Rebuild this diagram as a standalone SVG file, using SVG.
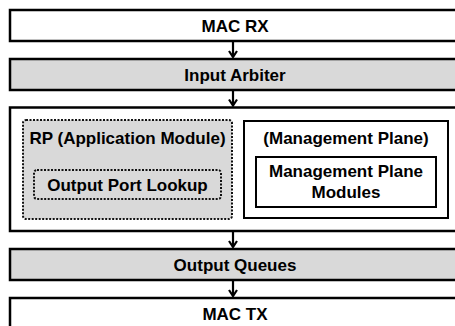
<svg xmlns="http://www.w3.org/2000/svg" width="455" height="326" viewBox="0 0 455 326">
<style>
.box{stroke:#000;stroke-width:2.5;}
.w{fill:#fff;}
.g{fill:#d9d9d9;}
.dot{fill:#d9d9d9;stroke:#111;stroke-width:2;stroke-dasharray:2 1.5;}
.sol{fill:#fff;stroke:#000;stroke-width:2;}
text{font-family:"Liberation Sans",Arial,sans-serif;font-weight:bold;font-size:17px;fill:#000;text-anchor:middle;}
.arr{stroke:#000;stroke-width:2.2;fill:none;}
</style>
<rect width="455" height="326" fill="#fff"/>
<g id="mac-rx"><rect class="box w" x="10" y="10" width="452" height="31"/><text x="235" y="32">MAC RX</text></g>
<g id="input-arbiter"><rect class="box g" x="10" y="59" width="452" height="31"/><text x="235" y="81">Input Arbiter</text></g>
<g id="processing"><rect class="box w" x="10" y="107.5" width="452" height="123.5"/></g>
<g id="rp"><rect class="dot" x="23" y="120" width="209" height="99" rx="3"/><text x="127.5" y="144">RP (Application Module)</text></g>
<g id="output-port-lookup"><rect class="dot" x="34" y="170" width="187" height="29" rx="3"/><text x="127.5" y="190.5">Output Port Lookup</text></g>
<g id="management-plane"><rect class="sol" x="244" y="121" width="204" height="97"/><text x="346" y="144">(Management Plane)</text></g>
<g id="management-plane-modules"><rect class="sol" x="256" y="157" width="180" height="50"/><text x="346" y="177">Management Plane</text><text x="346" y="198">Modules</text></g>
<g id="output-queues"><rect class="box g" x="10" y="249" width="452" height="31"/><text x="235" y="271">Output Queues</text></g>
<g id="mac-tx"><rect class="box w" x="10" y="298" width="452" height="40"/><text x="235" y="320">MAC TX</text></g>
<g id="connectors">
<line class="arr" x1="233" y1="41" x2="233" y2="57"/><polyline class="arr" points="229,51 233,57 237,51"/>
<line class="arr" x1="233" y1="90" x2="233" y2="105.5"/><polyline class="arr" points="229,99.5 233,105.5 237,99.5"/>
<line class="arr" x1="233" y1="231" x2="233" y2="247"/><polyline class="arr" points="229,241 233,247 237,241"/>
<line class="arr" x1="233" y1="280" x2="233" y2="296"/><polyline class="arr" points="229,290 233,296 237,290"/>
</g>
</svg>
